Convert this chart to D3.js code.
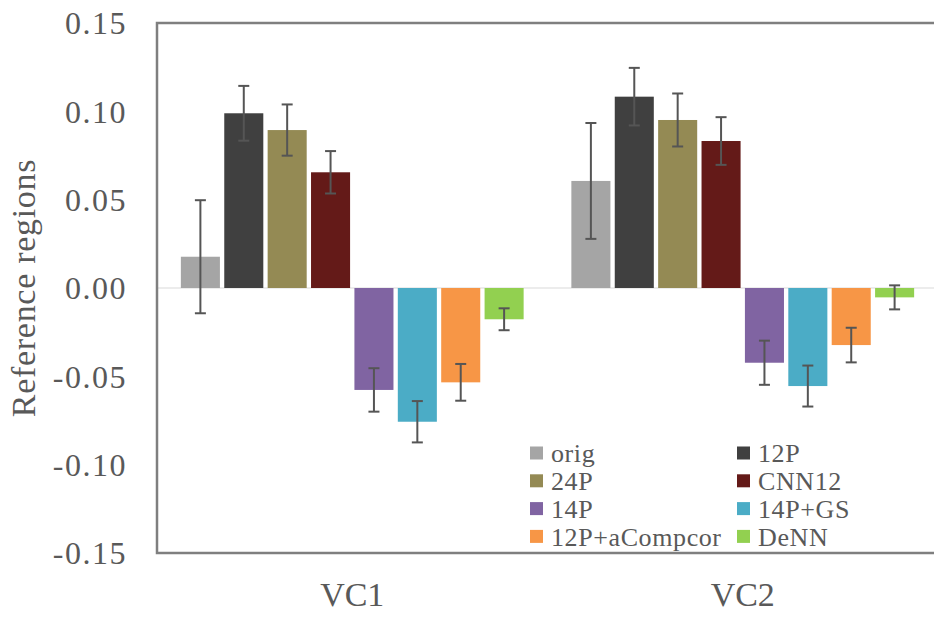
<!DOCTYPE html>
<html>
<head>
<meta charset="utf-8">
<script src="https://cdn.jsdelivr.net/npm/d3@7"></script>
<style>
  html, body { margin: 0; padding: 0; background: #fff; overflow: hidden; }
  svg { display: block; }
  text { font-family: "Liberation Serif", "Times New Roman", serif; fill: #595959; }
</style>
</head>
<body>
<svg id="chart" width="934" height="618"></svg>
<script>
// Regions on the x axis and the denoising pipelines compared within each
const groups = ["VC1", "VC2"];
const methods = ["orig", "12P", "24P", "CNN12", "14P", "14P+GS", "12P+aCompcor", "DeNN"];
const colors = ["#a5a5a5", "#404040", "#948a54", "#641a18", "#8064a2", "#4bacc6", "#f79646", "#92d050"];

// Mean correlation with reference regions, per method (order as in `methods`)
const vc1Values = [0.0177, 0.0989, 0.0894, 0.0655, -0.0577, -0.0757, -0.0534, -0.0177];
const vc2Values = [0.0606, 0.1083, 0.0951, 0.0832, -0.0423, -0.0555, -0.0323, -0.0053];
// Half-width of each error bar
const vc1Errors = [0.0320, 0.0155, 0.0145, 0.0120, 0.0123, 0.0117, 0.0104, 0.0062];
const vc2Errors = [0.0328, 0.0163, 0.0150, 0.0135, 0.0125, 0.0116, 0.0098, 0.0068];

const yTicks = [0.15, 0.10, 0.05, 0.00, -0.05, -0.10, -0.15];

const series = [
  { group: "VC1", values: vc1Values, errors: vc1Errors },
  { group: "VC2", values: vc2Values, errors: vc2Errors }
];

const svg = d3.select("#chart");
const margin = { left: 157, top: 23, right: -4, bottom: 65 };
const W = 934, H = 618;
const plotRight = W - margin.right;
const plotBottom = H - margin.bottom;

const x0 = d3.scaleBand().domain(groups).range([margin.left, plotRight]).paddingInner(0).paddingOuter(0);
const x1 = d3.scaleBand().domain(methods).range([0, x0.bandwidth()]).paddingInner(0.1).paddingOuter(0.55);
const y = d3.scaleLinear().domain([-0.15, 0.15]).range([plotBottom, margin.top]);

// zero line
svg.append("line")
  .attr("x1", margin.left).attr("x2", plotRight)
  .attr("y1", y(0)).attr("y2", y(0))
  .attr("stroke", "#d9d9d9").attr("stroke-width", 1.2);

// bars
const g = svg.selectAll("g.group").data(series).join("g")
  .attr("class", "group")
  .attr("transform", d => `translate(${x0(d.group)},0)`);

g.selectAll("rect").data(d => d.values.map((v, i) => ({ v, e: d.errors[i], m: methods[i], c: colors[i] })))
  .join("rect")
  .attr("x", d => x1(d.m))
  .attr("width", x1.bandwidth())
  .attr("y", d => y(Math.max(0, d.v)))
  .attr("height", d => Math.abs(y(d.v) - y(0)))
  .attr("fill", d => d.c);

// error bars
const eb = g.selectAll("g.err").data(d => d.values.map((v, i) => ({ v, e: d.errors[i], m: methods[i] })))
  .join("g").attr("class", "err")
  .attr("stroke", "#555").attr("stroke-width", 2);
const cx = d => x1(d.m) + x1.bandwidth() / 2;
const cap = 5.5;
eb.append("line").attr("x1", cx).attr("x2", cx).attr("y1", d => y(d.v + d.e)).attr("y2", d => y(d.v - d.e));
eb.append("line").attr("x1", d => cx(d) - cap).attr("x2", d => cx(d) + cap).attr("y1", d => y(d.v + d.e)).attr("y2", d => y(d.v + d.e));
eb.append("line").attr("x1", d => cx(d) - cap).attr("x2", d => cx(d) + cap).attr("y1", d => y(d.v - d.e)).attr("y2", d => y(d.v - d.e));

// frame: left, top, bottom
svg.append("path")
  .attr("d", `M${plotRight},${margin.top}H${margin.left}V${plotBottom}H${plotRight}`)
  .attr("fill", "none").attr("stroke", "#7f7f7f").attr("stroke-width", 2.5);

// y tick labels (plain hyphen for negatives)
const fmt = d => d3.format(".2f")(d).replace("\u2212", "-");
const yAxis = d3.axisLeft(y).tickValues(yTicks).tickFormat(fmt).tickSize(0).tickPadding(30);
const ya = svg.append("g").attr("transform", `translate(${margin.left},0)`).call(yAxis);
ya.select(".domain").remove();
ya.selectAll("text")
  .style("font-family", "'Liberation Serif', 'Times New Roman', serif")
  .style("font-size", "32px").style("letter-spacing", "1.5px")
  .attr("fill", "#595959").attr("dy", "0.34em");

// x category labels
const xAxis = d3.axisBottom(x0).tickSize(0).tickPadding(0);
const xa = svg.append("g").attr("transform", `translate(0,${plotBottom})`).call(xAxis);
xa.select(".domain").remove();
xa.selectAll("text")
  .style("font-family", "'Liberation Serif', 'Times New Roman', serif")
  .style("font-size", "34px")
  .attr("fill", "#595959").attr("dy", "1.55em");

// y axis title
svg.append("text")
  .attr("transform", `translate(35,${(margin.top + plotBottom) / 2}) rotate(-90)`)
  .attr("text-anchor", "middle")
  .style("font-size", "34px").style("letter-spacing", "0.7px")
  .text("Reference regions");

// legend, two columns
const legend = svg.append("g").attr("transform", "translate(530,453)");
const colX = [0, 207];
const rowH = 27.8;
const items = legend.selectAll("g").data(methods).join("g")
  .attr("transform", (d, i) => `translate(${colX[i % 2]},${Math.floor(i / 2) * rowH})`);
items.append("rect").attr("x", 0).attr("y", -6.5).attr("width", 13).attr("height", 13)
  .attr("fill", (d, i) => colors[i]);
items.append("text").attr("x", 21).attr("y", 0).attr("dy", "0.35em")
  .style("font-size", "26px").style("letter-spacing", "0.6px").text(d => d);
</script>
</body>
</html>
